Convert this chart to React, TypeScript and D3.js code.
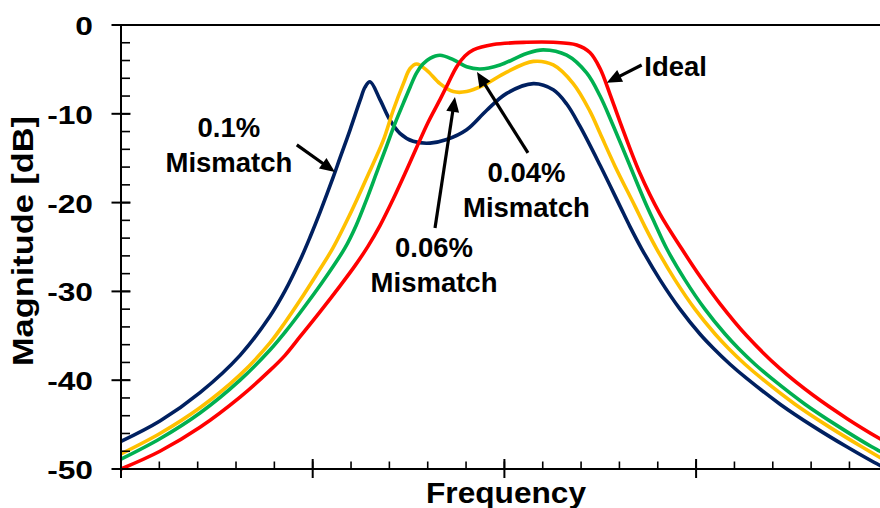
import React from "react";
import * as d3 from "d3";

// ---- data (frequency in arbitrary units, magnitude in dB) ----
const mismatch01: [number, number][] = [
  [0, -46.9], [2.03, -44.6], [4.12, -41.4], [6.21, -37.2], [7.77, -32.8], [8.555, -29.95],
  [9.34, -26.5], [9.86, -23.9], [10.38, -21.1], [11.06, -17.2], [11.42, -15.0], [11.95, -11.8],
  [12.47, -8.5], [12.73, -7.0], [12.99, -6.4], [13.51, -8.4], [14.03, -10.7], [14.55, -12.2],
  [15.24, -13.1], [16.12, -13.3], [16.99, -12.9], [18.03, -11.8], [19.08, -9.6], [20.12, -7.7],
  [21.51, -6.6], [22.55, -7.3], [23.25, -8.9], [23.94, -11.4], [24.99, -15.8], [26.03, -20.4],
  [26.55, -22.7], [27.16, -25.2], [28.12, -28.7], [29.16, -32.0], [30.2, -34.8], [30.9, -36.4],
  [31.77, -38.2], [32.64, -39.8], [34.38, -42.7], [36.11, -45.2], [37.86, -47.5], [39.59, -49.6],
  [40, -50.0],
];
const mismatch006: [number, number][] = [
  [0, -48.3], [2.03, -46.0], [4.12, -43.1], [6.21, -39.4], [7.77, -35.8], [8.555, -33.5],
  [9.34, -31.0], [10.17, -28.2], [11.06, -25.1], [11.95, -21.3], [12.82, -17.2], [13.68, -13.0],
  [14.2, -9.6], [14.73, -6.6], [15.08, -4.9], [15.42, -4.4], [15.95, -5.1], [16.64, -6.6],
  [17.33, -7.5], [18.03, -7.5], [18.9, -6.8], [20.12, -5.3], [21.51, -4.1], [22.55, -4.5],
  [23.59, -6.6], [24.46, -9.7], [24.99, -12.2], [25.77, -15.9], [26.81, -20.4], [27.33, -22.7],
  [27.94, -25.2], [28.9, -28.7], [29.94, -32.0], [30.99, -34.8], [31.68, -36.4], [32.55, -38.2],
  [33.42, -39.8], [35.16, -42.7], [36.9, -45.2], [38.64, -47.5], [39.59, -48.7], [40, -49.2],
];
const mismatch004: [number, number][] = [
  [0, -48.9], [2.03, -46.6], [4.12, -43.7], [6.21, -40.0], [7.77, -36.6], [8.555, -34.6],
  [9.34, -32.4], [10.49, -29.0], [11.685, -25.1], [12.26, -22.6], [12.82, -19.6], [13.34, -16.6],
  [13.86, -13.6], [14.29, -11.1], [14.73, -8.8], [15.08, -7.0], [15.42, -5.4], [15.75, -4.4],
  [16.12, -3.75], [16.64, -3.4], [17.33, -3.9], [18.03, -4.7], [18.73, -4.95], [19.77, -4.5],
  [21.16, -3.2], [22.03, -2.8], [23.25, -3.4], [24.29, -5.4], [24.99, -8.0], [25.61, -11.0],
  [26.29, -14.5], [27.33, -19.9], [27.86, -22.4], [28.47, -25.2], [29.42, -28.7], [30.46, -32.0],
  [31.51, -34.8], [32.2, -36.4], [33.07, -38.2], [33.94, -39.8], [35.68, -42.7], [37.42, -45.2],
  [39.16, -47.5], [39.59, -48.0], [40, -48.5],
];
const ideal: [number, number][] = [
  [0, -50.0], [2.03, -48.0], [4.12, -45.3], [6.21, -41.9], [7.77, -38.9], [8.555, -37.2],
  [9.34, -35.1], [10.38, -32.3], [11.42, -29.4], [12.21, -27.1], [12.89, -24.9], [13.51, -22.6],
  [14.2, -19.6], [14.82, -16.7], [15.42, -13.8], [16.01, -11.0], [16.64, -8.4], [17.06, -6.6],
  [17.51, -4.7], [17.94, -3.5], [18.38, -2.8], [19.42, -2.2], [21.16, -1.95], [22.55, -1.95],
  [23.77, -2.25], [24.46, -3.1], [24.99, -4.9], [25.51, -7.8], [26.03, -10.9], [27.07, -16.7],
  [28.12, -21.3], [29.25, -25.2], [30.2, -28.3], [31.25, -31.4], [32.64, -35.0], [34.38, -38.7],
  [36.11, -41.7], [37.86, -44.3], [39.59, -46.6], [40, -47.1],
];

const seriesNames = ["0.1% Mismatch", "0.06% Mismatch", "0.04% Mismatch", "Ideal"];
const seriesColors = ["#002060", "#FFC000", "#00B050", "#FF0000"];
const seriesData = [mismatch01, mismatch006, mismatch004, ideal];

const yTickLabels = [0, -10, -20, -30, -40, -50];
const yMinorTicks = d3.range(0, -50.1, -2);
const xMajorTicks = [0, 10, 20, 30, 40];
const xMinorTicks = d3.range(0, 40.1, 2);

// annotations: label lines, label anchor (data coords), arrow tail & tip (data coords)
const annotationLines = [["0.1%", "Mismatch"], ["0.06%", "Mismatch"], ["0.04%", "Mismatch"], ["Ideal"]];
const annotationAnchor: [number, number][] = [[5.63, -12.65], [16.33, -26.09], [21.15, -17.65], [27.3, -5.74]];
const annotationAlign = ["middle", "middle", "middle", "start"];
const arrowTail: [number, number][] = [[9.17, -13.5], [16.38, -22.86], [21.23, -14.41], [27.16, -4.5]];
const arrowTip: [number, number][] = [[11.16, -16.55], [17.42, -8.11], [18.57, -5.29], [25.34, -6.5]];

const W = 880;
const H = 508;
const FONT = "'Liberation Sans', Arial, sans-serif";

export default function App() {
  const x = d3.scaleLinear().domain([0, 40]).range([121, 887.8]);
  const y = d3.scaleLinear().domain([-50, 0]).range([469, 25]);
  const line = d3
    .line<[number, number]>()
    .x((d) => x(d[0]))
    .y((d) => y(d[1]))
    .curve(d3.curveCatmullRom.alpha(0.5));

  const arrowHead = (t: [number, number], h: [number, number]) => {
    const x1 = x(t[0]), y1 = y(t[1]), x2 = x(h[0]), y2 = y(h[1]);
    const ang = Math.atan2(y2 - y1, x2 - x1);
    const len = 15, half = 6.5;
    const bx = x2 - len * Math.cos(ang), by = y2 - len * Math.sin(ang);
    const px = -Math.sin(ang) * half, py = Math.cos(ang) * half;
    return {
      line: { x1, y1, x2: bx + 2 * Math.cos(ang), y2: by + 2 * Math.sin(ang) },
      head: `${x2},${y2} ${bx + px},${by + py} ${bx - px},${by - py}`,
    };
  };

  const axisX = x(0);
  const axisY = y(-50);

  return (
    <svg
      width={W}
      height={H}
      style={{ position: "absolute", left: 0, top: 0, background: "#fff" }}
      fontFamily={FONT}
    >
      <rect x={0} y={0} width={W} height={H} fill="#fff" />
      {/* top border */}
      <line x1={axisX} x2={W} y1={y(0)} y2={y(0)} stroke="#000" strokeWidth={2} />

      {/* curves */}
      {seriesData.map((d, i) => (
        <path key={seriesNames[i]} d={line(d) || ""} fill="none" stroke={seriesColors[i]} strokeWidth={3.6} strokeLinejoin="round" />
      ))}

      {/* y axis */}
      <line x1={axisX} x2={axisX} y1={y(0)} y2={axisY} stroke="#000" strokeWidth={2} />
      {yMinorTicks.map((v) => (
        <line key={"ym" + v} x1={axisX} x2={axisX + 9} y1={y(v)} y2={y(v)} stroke="#000" strokeWidth={1.6} />
      ))}
      {yTickLabels.map((v) => (
        <g key={"yM" + v}>
          <line x1={axisX - 9.5} x2={axisX + 9.5} y1={y(v)} y2={y(v)} stroke="#000" strokeWidth={2} />
          <text
            transform={`translate(${axisX - 28},${y(v) + 10}) scale(1.22,1)`}
            textAnchor="end"
            fontSize={26}
            fontWeight="bold"
            fill="#000"
          >
            {v}
          </text>
        </g>
      ))}

      {/* x axis */}
      <line x1={axisX} x2={W} y1={axisY} y2={axisY} stroke="#000" strokeWidth={2} />
      {xMinorTicks.map((v) => (
        <line key={"xm" + v} x1={x(v)} x2={x(v)} y1={axisY - 7.5} y2={axisY} stroke="#000" strokeWidth={1.6} />
      ))}
      {xMajorTicks.map((v) => (
        <line key={"xM" + v} x1={x(v)} x2={x(v)} y1={axisY - 10} y2={axisY + 9} stroke="#000" strokeWidth={2} />
      ))}

      {/* axis titles */}
      <text x={506} y={503} textAnchor="middle" fontSize={30} fontWeight="bold" textLength={160} lengthAdjust="spacingAndGlyphs">
        Frequency
      </text>
      <text
        transform={`translate(33,241) rotate(-90)`}
        textAnchor="middle"
        fontSize={30}
        fontWeight="bold"
        textLength={250}
        lengthAdjust="spacingAndGlyphs"
      >
        Magnitude [dB]
      </text>

      {/* annotations */}
      {annotationLines.map((lines, i) => {
        const a = arrowHead(arrowTail[i], arrowTip[i]);
        const ax = x(annotationAnchor[i][0]);
        const ay = y(annotationAnchor[i][1]);
        return (
          <g key={"ann" + i}>
            <line {...a.line} stroke="#000" strokeWidth={3.2} />
            <polygon points={a.head} fill="#000" />
            {lines.map((t, j) => (
              <text
                key={j}
                x={ax}
                y={ay + j * 35}
                textAnchor={annotationAlign[i] as any}
                fontSize={27.5}
                fontWeight="bold"
                fill="#000"
              >
                {t}
              </text>
            ))}
          </g>
        );
      })}
    </svg>
  );
}
